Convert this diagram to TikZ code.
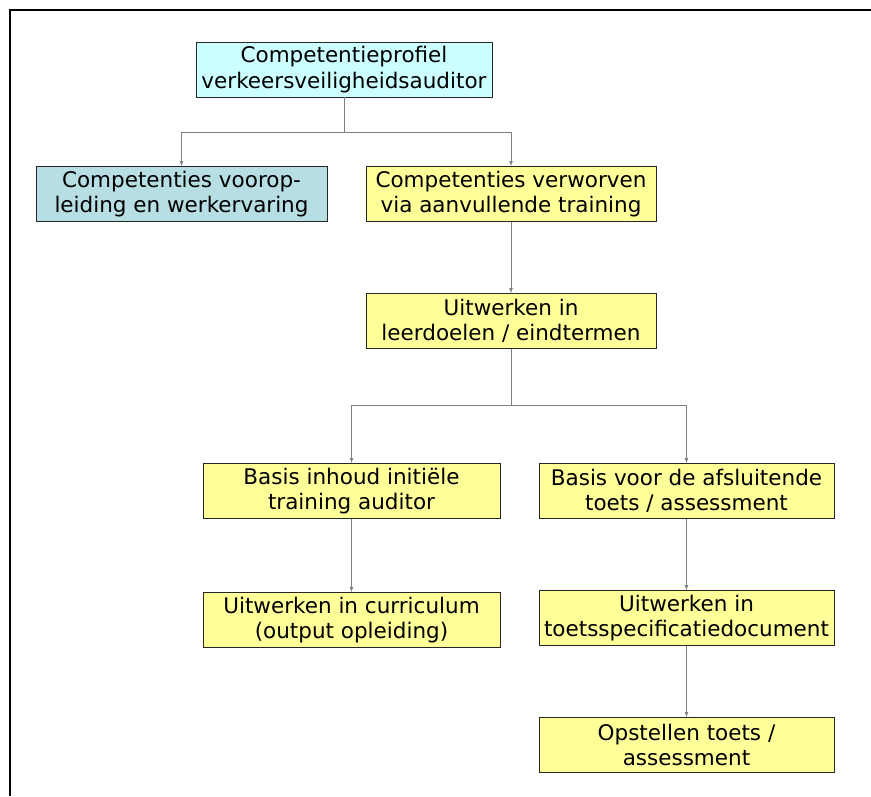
\documentclass[tikz,border=0pt]{standalone}
\usepackage{fontspec}
\setmainfont{DejaVu Sans}
\usepackage{tikz}
\usepackage{xcolor}
\usetikzlibrary{arrows}
\usetikzlibrary{positioning}

\definecolor{profcyan}{HTML}{CCFFFF}
\definecolor{voorblue}{HTML}{B7DEE3}
\definecolor{boxyellow}{HTML}{FFFF99}
\definecolor{linegray}{HTML}{7F7F7F}

\tikzset{
  blok/.style={draw=black!85, line width=0.8pt, fill=boxyellow, inner sep=0pt,
    minimum height=55pt, align=center,
    font=\fontsize{21.5}{25.5}\selectfont},
  pijl/.style={draw=linegray, line width=0.7pt, ->}
}

\begin{document}
\begin{tikzpicture}[x=1pt, y=-1pt, >=latex]
  \useasboundingbox (0,0) rectangle (871,796);
  % kader links en boven
  \fill (8.7,8.7) rectangle (871,11.3);
  \fill (8.7,8.7) rectangle (11.3,796);

  % bovenste niveau
  \node[blok, fill=profcyan, minimum width=296pt] (prof) at (344,69.5)
    {Competentieprofiel\\verkeersveiligheidsauditor};
  \node[blok, fill=voorblue, minimum width=291pt] (voor) at (181.5,194)
    {Competenties voorop-\\leiding en werkervaring};
  \node[blok, minimum width=290pt] (verw) at (511,194)
    {Competenties verworven\\via aanvullende training};
  \node[blok, minimum width=290pt] (leer) at (511,321)
    {Uitwerken in\\leerdoelen / eindtermen};

  % training en toets
  \node[blok, minimum width=297pt] (inhoud) at (351.5,491)
    {Basis inhoud initiële\\training auditor};
  \node[blok, minimum width=295pt] (toets) at (686.5,491)
    {Basis voor de afsluitende\\toets / assessment};
  \node[blok, minimum width=297pt] (curr) at (351.5,620)
    {Uitwerken in curriculum\\(output opleiding)};
  \node[blok, minimum width=295pt] (spec) at (686.5,618)
    {Uitwerken in\\toetsspecificatiedocument};
  \node[blok, minimum width=295pt] (opst) at (686.5,745)
    {Opstellen toets /\\assessment};

  \foreach \doel in {voor, verw}
    \draw[pijl] (prof.south) -- ++(0,35) -| (\doel.north);
  \foreach \doel in {inhoud, toets}
    \draw[pijl] (leer.south) -- ++(0,56) -| (\doel.north);
  \draw[pijl] (verw) -- (leer);
  \draw[pijl] (inhoud) -- (curr);
  \draw[pijl] (toets) -- (spec);
  \draw[pijl] (spec) -- (opst);
\end{tikzpicture}
\end{document}
